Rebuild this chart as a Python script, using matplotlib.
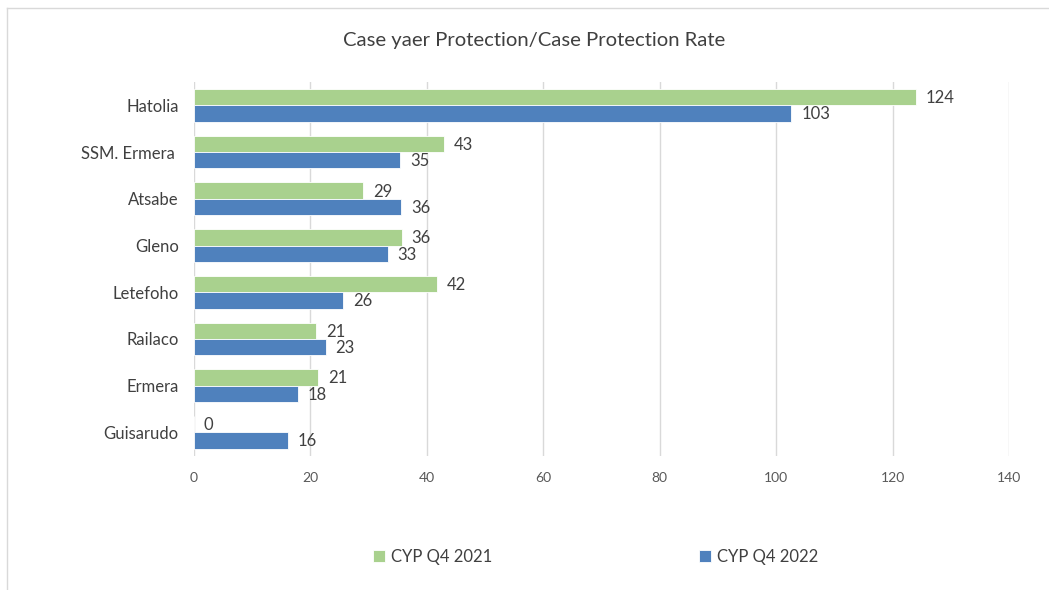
import matplotlib.pyplot as plt
import numpy as np

plt.rcParams['font.family'] = ['Lato', 'DejaVu Sans']

# Categories from top to bottom
sites = ['Hatolia', 'SSM. Ermera ', 'Atsabe', 'Gleno', 'Letefoho', 'Railaco', 'Ermera', 'Guisarudo']
# values (labels show rounded numbers)
cyp_2021 = [124.0, 42.9, 29.0, 35.7, 41.8, 21.0, 21.3, 0.0]
cyp_2022 = [102.6, 35.4, 35.6, 33.3, 25.6, 22.6, 17.9, 16.1]
xticks = [0, 20, 40, 60, 80, 100, 120, 140]

green = '#A9D18E'
blue = '#4F81BD'
txt = '#404040'

fig = plt.figure(figsize=(10.49, 5.9), dpi=100)
ax = fig.add_axes([0.1849, 0.2276, 0.777, 0.6334])

y = np.arange(len(sites))
h = 0.35
b1 = ax.barh(y - h / 2, cyp_2021, height=h, color=green, edgecolor='white', linewidth=0.6, label='CYP Q4 2021')
b2 = ax.barh(y + h / 2, cyp_2022, height=h, color=blue, edgecolor='white', linewidth=0.6, label='CYP Q4 2022')

# data labels
for bars, vals in ((b1, cyp_2021), (b2, cyp_2022)):
    for bar, v in zip(bars, vals):
        ax.text(bar.get_width() + 1.7, bar.get_y() + bar.get_height() / 2 + 0.02, '%.0f' % v,
                va='center', ha='left', fontsize=12, color=txt)

ax.set_ylim(len(sites) - 0.5, -0.5)
ax.set_xlim(0, 140)
ax.set_xticks(xticks)
ax.set_yticks(y)
ax.set_yticklabels(sites, fontsize=12, color=txt)
ax.tick_params(axis='x', labelsize=10, colors='#595959', length=0, pad=12)
ax.tick_params(axis='y', length=0, pad=11)
ax.xaxis.grid(True, color='#D9D9D9', linewidth=1)
ax.set_axisbelow(True)
for s in ax.spines.values():
    s.set_visible(False)

fig.text(0.509, 0.932, 'Case yaer Protection/Case Protection Rate', ha='center', va='center',
         fontsize=14.6, color=txt)

leg = fig.legend(handles=[b1, b2], loc='center', bbox_to_anchor=(0.568, 0.056), ncol=2,
                 frameon=False, fontsize=12, handlelength=0.7, handleheight=0.7,
                 handletextpad=0.4, columnspacing=12.4)
for t in leg.get_texts():
    t.set_color(txt)

# chart frame (cropped on right/bottom)
fig.add_artist(plt.Line2D([0.0067, 0.0067], [0, 0.9865], color='#D9D9D9', linewidth=1, transform=fig.transFigure))
fig.add_artist(plt.Line2D([0.0067, 1], [0.9865, 0.9865], color='#D9D9D9', linewidth=1, transform=fig.transFigure))

fig.savefig('out.png', dpi=100)
